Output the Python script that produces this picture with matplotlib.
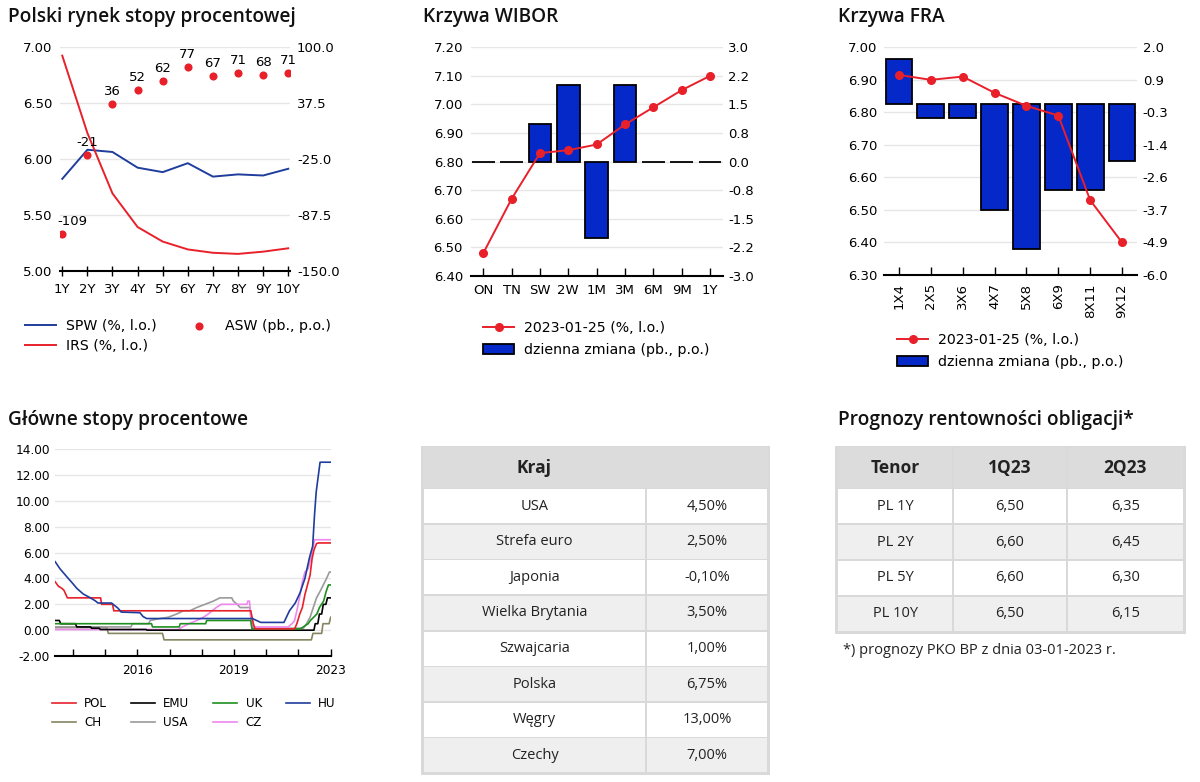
import matplotlib
matplotlib.use('Agg')
import matplotlib.pyplot as plt
from matplotlib.patches import Rectangle
from matplotlib.ticker import FormatStrFormatter
import numpy as np

plt.rcParams['font.family'] = 'DejaVu Sans'
plt.rcParams['axes.unicode_minus'] = False

W, H = 1200, 782
TFONT = 'Open Sans'

# --- Polski rynek stopy procentowej
tenors = ['1Y', '2Y', '3Y', '4Y', '5Y', '6Y', '7Y', '8Y', '9Y', '10Y']
spw = [5.82, 6.08, 6.06, 5.92, 5.88, 5.96, 5.84, 5.86, 5.85, 5.91]
irs = [6.92, 6.23, 5.69, 5.39, 5.26, 5.19, 5.16, 5.15, 5.17, 5.20]
asw = [-109, -21, 36, 52, 62, 77, 67, 71, 68, 71]

# --- Krzywa WIBOR
wibor_tenors = ['ON', 'TN', 'SW', '2W', '1M', '3M', '6M', '9M', '1Y']
wibor = [6.48, 6.67, 6.83, 6.84, 6.86, 6.93, 6.99, 7.05, 7.10]
wibor_chg = [0, 0, 1, 2, -2, 2, 0, 0, 0]

# --- Krzywa FRA
fra_tenors = ['1X4', '2X5', '3X6', '4X7', '5X8', '6X9', '8X11', '9X12']
fra = [6.915, 6.90, 6.91, 6.86, 6.82, 6.79, 6.53, 6.40]
fra_chg = [1.6, -0.5, -0.5, -3.7, -5.1, -3.0, -3.0, -2.0]

# --- Główne stopy procentowe (os x w latach wg skali wykresu)
pol_x = [2013.45, 2013.55, 2013.65, 2013.72, 2013.83, 2014.86, 2014.89, 2015.23, 2015.27,
         2019.52, 2019.56, 2019.6, 2019.65, 2020.88, 2020.95, 2021.04, 2021.12, 2021.2,
         2021.28, 2021.36, 2021.42, 2021.48, 2021.56, 2021.62, 2022.0]
pol_y = [3.75, 3.4, 3.25, 3.1, 2.5, 2.5, 2.0, 2.0, 1.5,
         1.5, 1.0, 0.5, 0.1, 0.1, 0.5, 1.25, 1.75, 2.75,
         3.5, 4.25, 5.5, 6.2, 6.7, 6.75, 6.75]

emu_x = [2013.45, 2013.58, 2013.62, 2014.08, 2014.12, 2014.55, 2014.58, 2014.82, 2014.85,
         2016.27, 2016.3, 2021.48, 2021.52, 2021.6, 2021.65, 2021.72, 2021.77, 2021.85,
         2021.9, 2022.0]
emu_y = [0.75, 0.75, 0.5, 0.5, 0.25, 0.25, 0.15, 0.15, 0.05,
         0.05, 0.0, 0.0, 0.5, 0.5, 1.25, 1.25, 2.0, 2.0,
         2.5, 2.5]

uk_x = [2013.45, 2016.44, 2016.47, 2017.3, 2017.33, 2018.12, 2018.15, 2019.52, 2019.56,
        2021.05, 2021.15, 2021.3, 2021.37, 2021.47, 2021.57, 2021.65, 2021.78, 2021.86,
        2021.93, 2022.0]
uk_y = [0.5, 0.5, 0.25, 0.25, 0.5, 0.5, 0.75, 0.75, 0.1,
        0.1, 0.25, 0.5, 0.75, 1.0, 1.25, 1.75, 2.25, 3.0,
        3.5, 3.5]

hu_x = [2013.45, 2013.6, 2013.81, 2014.0, 2014.12, 2014.32, 2014.53, 2014.69, 2014.78,
        2015.2, 2015.3, 2015.4, 2015.5, 2016.08, 2016.18, 2016.29, 2019.57, 2019.7,
        2019.83, 2020.55, 2020.72, 2020.9, 2021.05, 2021.2, 2021.34, 2021.44, 2021.5,
        2021.55, 2021.67, 2022.0]
hu_y = [5.3, 4.75, 4.14, 3.6, 3.24, 2.8, 2.52, 2.28, 2.1,
        2.1, 1.9, 1.7, 1.4, 1.35, 1.05, 0.9, 0.9, 0.75,
        0.6, 0.6, 1.5, 2.1, 2.9, 4.0, 5.6, 6.5, 9.0,
        10.7, 13.0, 13.0]

ch_x = [2013.45, 2015.05, 2015.1, 2016.78, 2016.83, 2021.4, 2021.45, 2021.72, 2021.76,
        2021.95, 2022.0]
ch_y = [0.2, 0.2, -0.25, -0.25, -0.75, -0.75, -0.25, -0.25, 0.5,
        0.5, 1.0]

usa_x = [2013.45, 2015.8, 2015.85, 2016.35, 2016.4, 2016.7, 2016.96, 2017.22, 2017.43,
         2017.63, 2017.84, 2018.1, 2018.36, 2018.56, 2018.93, 2018.98, 2019.1, 2019.19,
         2019.5, 2019.55, 2021.15, 2021.25, 2021.36, 2021.46, 2021.56, 2021.67, 2021.77,
         2021.87, 2021.96, 2022.0]
usa_y = [0.25, 0.25, 0.5, 0.5, 0.75, 0.9, 1.0, 1.25, 1.5,
         1.5, 1.75, 2.0, 2.25, 2.5, 2.5, 2.25, 2.0, 1.75,
         1.75, 0.15, 0.15, 0.5, 1.0, 1.75, 2.5, 3.0, 3.5,
         4.0, 4.5, 4.5]

cz_x = [2013.45, 2017.27, 2017.4, 2017.6, 2017.85, 2018.05, 2018.2, 2018.32, 2018.45,
        2018.6, 2019.4, 2019.43, 2019.48, 2019.52, 2019.58, 2020.68, 2020.8, 2020.88,
        2020.95, 2021.05, 2021.12, 2021.2, 2021.3, 2021.4, 2021.5, 2022.0]
cz_y = [0.05, 0.05, 0.25, 0.5, 0.75, 1.0, 1.25, 1.5, 1.75,
        2.0, 2.0, 2.25, 2.25, 1.0, 0.25, 0.25, 0.5, 0.75,
        1.5, 2.75, 3.75, 4.5, 4.75, 5.75, 7.0, 7.0]

rate_ticks = [2014, 2015, 2016, 2017, 2018, 2019, 2020, 2021, 2022]
rate_ticklabels = ['', '', '2016', '', '', '2019', '', '', '2023']

# --- tabele
kraj = ['USA', 'Strefa euro', 'Japonia', 'Wielka Brytania', 'Szwajcaria', 'Polska', 'Węgry', 'Czechy']
stopy = ['4,50%', '2,50%', '-0,10%', '3,50%', '1,00%', '6,75%', '13,00%', '7,00%']
prog_header = ['Tenor', '1Q23', '2Q23']
prog_tenor = ['PL 1Y', 'PL 2Y', 'PL 5Y', 'PL 10Y']
prog_1q = ['6,50', '6,60', '6,60', '6,50']
prog_2q = ['6,35', '6,45', '6,30', '6,15']

BLUE_LINE = '#1f3d9c'
RED = '#e8202a'
BAR_BLUE = '#0528c8'
GRID = '#e6e6e6'
TICK_FS = 9.5
LEG_FS = 10.2

fig = plt.figure(figsize=(12, 7.82), dpi=100)
bg = fig.add_axes([0, 0, 1, 1])
bg.set_xlim(0, W)
bg.set_ylim(H, 0)
bg.axis('off')


def px_axes(l, t, r, b):
    return fig.add_axes([l / W, 1 - b / H, (r - l) / W, (b - t) / H])


def clean(ax, keep_bottom=True):
    for s in ['top', 'left', 'right']:
        ax.spines[s].set_visible(False)
    if keep_bottom:
        ax.spines['bottom'].set_linewidth(1.5)
    else:
        ax.spines['bottom'].set_visible(False)
    ax.tick_params(axis='y', length=0, labelsize=TICK_FS)
    ax.patch.set_visible(False)


def legend_at(handles, labels, x, y, **kw):
    opts = dict(loc='upper left', bbox_to_anchor=(x / W, 1 - y / H), frameon=False,
                fontsize=LEG_FS, borderpad=0, borderaxespad=0, handlelength=2.2,
                handletextpad=0.7, labelspacing=0.45, columnspacing=1.9)
    opts.update(kw)
    fig.legend(handles, labels, **opts)


# ===== Polski rynek stopy procentowej
ax1 = px_axes(60, 46.7, 289.5, 270.7)
x1 = np.arange(len(tenors))
ax1r = ax1.twinx()
clean(ax1)
clean(ax1r, keep_bottom=False)
l_spw, = ax1.plot(x1, spw, color=BLUE_LINE, lw=1.4)
l_irs, = ax1.plot(x1, irs, color=RED, lw=1.4)
ax1.set_ylim(5, 7)
ax1.set_yticks(np.arange(5, 7.01, 0.5))
ax1.yaxis.set_major_formatter(FormatStrFormatter('%.2f'))
ax1.set_xlim(-0.09, 9.05)
ax1.set_xticks(x1, tenors)
ax1.tick_params(axis='x', direction='inout', length=7, width=1, labelsize=TICK_FS, pad=5)
ax1.tick_params(axis='y', pad=5.3)
ax1.grid(axis='y', color=GRID, lw=1)
ax1.set_axisbelow(True)
s_asw = ax1r.scatter(x1, asw, s=34, color=RED, zorder=3, linewidths=0)
ax1r.set_ylim(-150, 100)
ax1r.set_yticks(np.linspace(100, -150, 5))
ax1r.yaxis.set_major_formatter(FormatStrFormatter('%.1f'))
ax1r.tick_params(axis='y', pad=5.4)
for xi, v in zip(x1, asw):
    dx = 7 if xi == 0 else 0
    ax1r.annotate(str(v), (xi, v), xytext=(dx, 9), textcoords='offset points',
                  ha='center', va='center', fontsize=TICK_FS)
legend_at([l_spw, l_irs, s_asw], ['SPW (%, l.o.)', 'IRS (%, l.o.)', 'ASW (pb., p.o.)'],
          25, 319, ncol=2, scatterpoints=1)

# ===== Krzywa WIBOR
ax2 = px_axes(471, 47.3, 723.3, 276)
x2 = np.arange(len(wibor_tenors))
ax2b = ax2.twinx()
clean(ax2)
clean(ax2b, keep_bottom=False)
b_w = ax2b.bar(x2, wibor_chg, width=0.8, color=BAR_BLUE, edgecolor='black', linewidth=1.3)
ax2b.set_ylim(-3, 3)
ax2b.set_yticks(np.linspace(3, -3, 9))
ax2b.yaxis.set_major_formatter(FormatStrFormatter('%.1f'))
ax2b.tick_params(axis='y', pad=3.4)
ax2b.grid(axis='y', color=GRID, lw=1)
ax2b.set_axisbelow(True)
l_w, = ax2.plot(x2, wibor, color=RED, lw=1.4, marker='o', ms=5.5)
ax2.set_ylim(6.4, 7.2)
ax2.set_yticks(np.linspace(6.4, 7.2, 9))
ax2.yaxis.set_major_formatter(FormatStrFormatter('%.2f'))
ax2.tick_params(axis='y', pad=5.8)
ax2.set_xlim(-0.434, 8.47)
ax2.set_xticks(x2, wibor_tenors)
ax2.tick_params(axis='x', direction='in', length=6, width=1, labelsize=TICK_FS, pad=6)
ax2.set_zorder(ax2b.get_zorder() + 1)
legend_at([l_w, b_w], ['2023-01-25 (%, l.o.)', 'dzienna zmiana (pb., p.o.)'], 483, 321,
          labelspacing=0.58)

# ===== Krzywa FRA
ax3 = px_axes(884, 47.3, 1136.7, 275)
x3 = np.arange(len(fra_tenors))
ax3b = ax3.twinx()
clean(ax3)
clean(ax3b, keep_bottom=False)
b_f = ax3b.bar(x3, fra_chg, width=0.84, color=BAR_BLUE, edgecolor='black', linewidth=1.3)
ax3b.set_ylim(-6, 2)
ax3b.set_yticks(np.linspace(2, -6, 8))
ax3b.yaxis.set_major_formatter(FormatStrFormatter('%.1f'))
ax3b.tick_params(axis='y', pad=4.3)
ax3b.grid(axis='y', color=GRID, lw=1)
ax3b.set_axisbelow(True)
l_f, = ax3.plot(x3, fra, color=RED, lw=1.4, marker='o', ms=5.5)
ax3.set_ylim(6.3, 7.0)
ax3.set_yticks(np.linspace(6.3, 7.0, 8))
ax3.yaxis.set_major_formatter(FormatStrFormatter('%.2f'))
ax3.tick_params(axis='y', pad=4.8)
ax3.set_xlim(-0.47, 7.46)
ax3.set_xticks(x3, fra_tenors, rotation=90)
ax3.tick_params(axis='x', direction='in', length=6, width=1, labelsize=TICK_FS, pad=6)
ax3.set_zorder(ax3b.get_zorder() + 1)
legend_at([l_f, b_f], ['2023-01-25 (%, l.o.)', 'dzienna zmiana (pb., p.o.)'], 897, 333,
          labelspacing=0.56)

# ===== Główne stopy procentowe
ax4 = px_axes(55, 449.3, 330.7, 656)
clean(ax4)
series = [('CH', ch_x, ch_y, '#85855f'), ('USA', usa_x, usa_y, '#9a9a9a'),
          ('CZ', cz_x, cz_y, '#ee88ee'), ('EMU', emu_x, emu_y, '#000000'),
          ('UK', uk_x, uk_y, '#1f8f1f'), ('POL', pol_x, pol_y, '#e8202a'),
          ('HU', hu_x, hu_y, '#1f3d9c')]
lines4 = {}
for name, xs, ys, col in series:
    lines4[name], = ax4.plot(xs, ys, color=col, lw=1.2)
ax4.set_xlim(2013.445, 2022.0)
ax4.set_ylim(-2, 14)
ax4.set_yticks(np.arange(-2, 14.1, 2))
ax4.yaxis.set_major_formatter(FormatStrFormatter('%.2f'))
ax4.tick_params(axis='y', labelsize=8.7, pad=3.6)
ax4.set_xticks(rate_ticks, rate_ticklabels)
ax4.tick_params(axis='x', direction='in', length=5, width=1, labelsize=8.7, pad=5.5)
ax4.grid(axis='y', color=GRID, lw=1)
ax4.set_axisbelow(True)
order = ['POL', 'CH', 'EMU', 'USA', 'UK', 'CZ', 'HU']
legend_at([lines4[k] for k in order], order, 52, 697, ncol=4, fontsize=8.6,
          handlelength=2.0, handletextpad=0.7, columnspacing=2.0, labelspacing=0.5)

# ===== tytuly
title_kw = dict(fontsize=13.8, fontweight='semibold', family=TFONT, color='#111111', va='baseline')
bg.text(8, 22, 'Polski rynek stopy procentowej', **title_kw)
bg.text(423, 22, 'Krzywa WIBOR', **title_kw)
bg.text(838, 22, 'Krzywa FRA', **title_kw)
bg.text(8, 425.5, 'Główne stopy procentowe', **title_kw)
bg.text(838, 425.5, 'Prognozy rentowności obligacji*', **title_kw)

# ===== tabele
cell_kw = dict(family=TFONT, fontsize=10.5, color='#222222', ha='center', va='center')
head_kw = dict(family=TFONT, fontsize=12.5, fontweight='bold', color='#222222', ha='center', va='center')


def draw_table(cols, top, head_h, row_h, header, columns, merge_header):
    nrows = len(columns[0])
    bottom = top + head_h + row_h * nrows
    bg.add_patch(Rectangle((cols[0] - 2, top - 1), cols[-1] - cols[0] + 4, bottom - top + 3,
                           fc='#d9d9d9', ec='none'))
    if merge_header:
        bg.add_patch(Rectangle((cols[0], top), cols[-1] - cols[0], head_h, fc='#dcdcdc', ec='none'))
    for j in range(len(cols) - 1):
        if not merge_header:
            bg.add_patch(Rectangle((cols[j] + 0.8, top), cols[j + 1] - cols[j] - 1.6, head_h,
                                   fc='#dcdcdc', ec='none'))
        if header[j]:
            bg.text((cols[j] + cols[j + 1]) / 2, top + head_h / 2, header[j], **head_kw)
        for i in range(nrows):
            y0 = top + head_h + i * row_h
            fc = 'white' if i % 2 == 0 else '#efefef'
            bg.add_patch(Rectangle((cols[j] + 0.8, y0 + 0.8), cols[j + 1] - cols[j] - 1.6, row_h - 1.6,
                                   fc=fc, ec='none'))
            bg.text((cols[j] + cols[j + 1]) / 2, y0 + row_h / 2, columns[j][i], **cell_kw)
    return bottom


draw_table([423.3, 645.7, 768.3], 447.3, 41, 35.6, ['Kraj', ''], [kraj, stopy], True)
draw_table([837.3, 953.3, 1066.7, 1184], 447.3, 41, 35.85, prog_header,
           [prog_tenor, prog_1q, prog_2q], False)
bg.text(843, 650, '*) prognozy PKO BP z dnia 03-01-2023 r.', family=TFONT, fontsize=10.5,
        color='#222222', ha='left', va='center')

fig.savefig('out.png', dpi=100, facecolor='white')
